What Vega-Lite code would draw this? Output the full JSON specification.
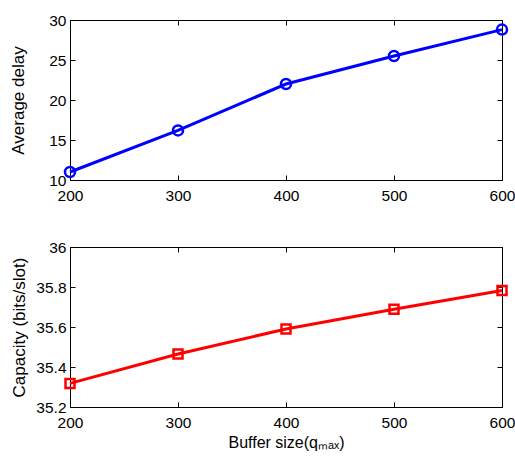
{
  "$schema": "https://vega.github.io/schema/vega-lite/v6.json",
  "padding": {"left": 9, "top": 12, "right": 0, "bottom": 0},
  "background": "white",
  "config": {
    "font": "Liberation Sans",
    "view": {"stroke": "black", "strokeWidth": 1},
    "axis": {
      "grid": false,
      "domainColor": "black",
      "tickColor": "black",
      "tickSize": -5,
      "labelFlush": false,
      "labelOverlap": false,
      "labelColor": "black",
      "labelFontSize": 15.5,
      "titleFontSize": 16,
      "titleFontWeight": "normal",
      "titleColor": "black",
      "labelFont": "Liberation Sans",
      "titleFont": "Liberation Sans"
    }
  },
  "datasets": {
    "d": [
      {"size": 200, "delay": 11.0, "capacity": 35.318},
      {"size": 300, "delay": 16.2, "capacity": 35.465},
      {"size": 400, "delay": 22.0, "capacity": 35.59},
      {"size": 500, "delay": 25.5, "capacity": 35.689},
      {"size": 600, "delay": 28.8, "capacity": 35.783}
    ]
  },
  "spacing": 35,
  "vconcat": [
    {
      "width": 432,
      "height": 160,
      "data": {"name": "d"},
      "layer": [
        {
          "mark": {"type": "line", "color": "#0000ff", "strokeWidth": 3,
                   "point": {"shape": "circle", "filled": false, "color": "#0000ff", "strokeWidth": 2.5, "size": 100}},
          "encoding": {
            "x": {"field": "size", "type": "quantitative",
                  "scale": {"domain": [200, 600], "nice": false},
                  "axis": {"values": [200, 300, 400, 500, 600], "title": null, "labelPadding": 13}},
            "y": {"field": "delay", "type": "quantitative",
                  "scale": {"domain": [10, 30], "nice": false},
                  "axis": {"values": [10, 15, 20, 25, 30], "title": "Average delay", "titleFontSize": 17, "labelPadding": 9, "titlePadding": 21}}
          }
        },
        {
          "mark": {"type": "line", "opacity": 0},
          "encoding": {
            "x": {"field": "size", "type": "quantitative",
                  "axis": {"orient": "top", "values": [200, 300, 400, 500, 600], "labels": false, "title": null}},
            "y": {"field": "delay", "type": "quantitative",
                  "axis": {"orient": "right", "values": [10, 15, 20, 25, 30], "labels": false, "title": null}}
          }
        }
      ],
      "resolve": {"axis": {"x": "independent", "y": "independent"}}
    },
    {
      "width": 432,
      "height": 160,
      "data": {"name": "d"},
      "layer": [
        {
          "mark": {"type": "line", "color": "#ff0000", "strokeWidth": 3,
                   "point": {"shape": "square", "filled": false, "color": "#ff0000", "strokeWidth": 2.5, "size": 81}},
          "encoding": {
            "x": {"field": "size", "type": "quantitative",
                  "scale": {"domain": [200, 600], "nice": false},
                  "axis": {"values": [200, 300, 400, 500, 600], "title": "Buffer size(qₘₐₓ)", "labelPadding": 13, "titlePadding": 4}},
            "y": {"field": "capacity", "type": "quantitative",
                  "scale": {"domain": [35.2, 36], "nice": false},
                  "axis": {"values": [35.2, 35.4, 35.6, 35.8, 36], "format": "~g", "title": "Capacity (bits/slot)", "titleFontSize": 17, "labelPadding": 9, "titlePadding": 7}}
          }
        },
        {
          "mark": {"type": "line", "opacity": 0},
          "encoding": {
            "x": {"field": "size", "type": "quantitative",
                  "axis": {"orient": "top", "values": [200, 300, 400, 500, 600], "labels": false, "title": null}},
            "y": {"field": "capacity", "type": "quantitative",
                  "axis": {"orient": "right", "values": [35.2, 35.4, 35.6, 35.8, 36], "labels": false, "title": null}}
          }
        }
      ],
      "resolve": {"axis": {"x": "independent", "y": "independent"}}
    }
  ]
}
